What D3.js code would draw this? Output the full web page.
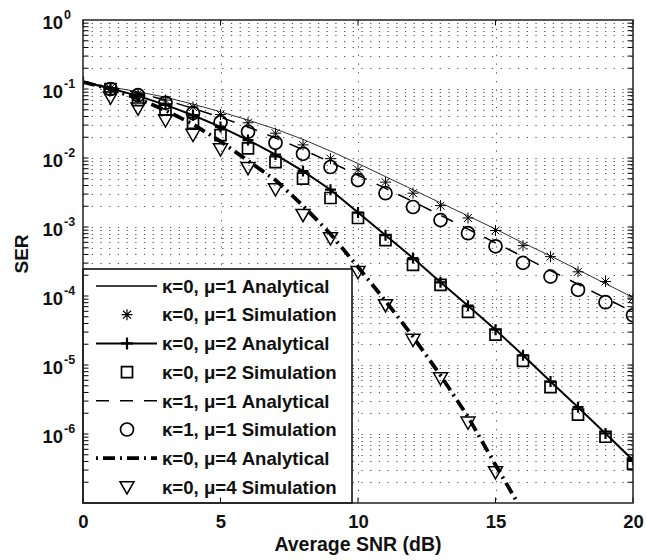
<!DOCTYPE html>
<html>
<head>
<meta charset="utf-8">
<script src="https://cdn.jsdelivr.net/npm/d3@7"></script>
<style>
  html, body { margin: 0; padding: 0; background: #fff; }
  svg text { font-family: "Liberation Sans", Arial, Helvetica, sans-serif; font-weight: bold; fill: #111; }
</style>
</head>
<body>
<svg id="chart" width="646" height="560"></svg>
<script>
// Average SNR (dB) sample points
const snrAnalytical = [0,1,2,3,4,5,6,7,8,9,10,11,12,13,14,15,16,17,18,19,20];
const snrSimulation = [1,2,3,4,5,6,7,8,9,10,11,12,13,14,15,16,17,18,19,20];
const snrMu4Analytical = [0,1,2,3,4,5,6,7,8,9,10,11,12,13,14,15,16];
const snrMu4Simulation = [1,2,3,4,5,6,7,8,9,10,11,12,13,14,15];

// kappa=0, mu=1
const serK0M1Analytical = [0.126,0.107,0.0912,0.0759,0.0603,0.0468,0.0355,0.0263,0.0186,0.0126,8.32e-3,5.37e-3,3.47e-3,2.24e-3,1.45e-3,9.33e-4,5.89e-4,3.80e-4,2.40e-4,1.51e-4,9.55e-5];
const serK0M1Simulation = [0.102,0.0851,0.0692,0.0550,0.0427,0.0324,0.0229,0.0155,9.77e-3,6.76e-3,4.47e-3,3.09e-3,2.04e-3,1.35e-3,8.91e-4,5.37e-4,3.72e-4,2.24e-4,1.62e-4,9.33e-5];
// kappa=0, mu=2
const serK0M2Analytical = [0.126,0.102,0.0794,0.0589,0.0417,0.0282,0.0182,0.0112,6.46e-3,3.47e-3,1.62e-3,7.59e-4,3.55e-4,1.58e-4,7.24e-5,3.24e-5,1.38e-5,5.75e-6,2.45e-6,1.02e-6,4.17e-7];
const serK0M2Simulation = [0.100,0.0692,0.0501,0.0324,0.0214,0.0138,8.71e-3,5.01e-3,2.63e-3,1.35e-3,6.46e-4,2.82e-4,1.45e-4,5.89e-5,2.75e-5,1.15e-5,4.79e-6,1.91e-6,9.12e-7,3.72e-7];
// kappa=1, mu=1
const serK1M1Analytical = [0.126,0.107,0.0871,0.0692,0.0525,0.0389,0.0282,0.0195,0.0132,8.71e-3,5.62e-3,3.63e-3,2.34e-3,1.48e-3,9.33e-4,5.89e-4,3.72e-4,2.34e-4,1.48e-4,9.33e-5,5.89e-5];
const serK1M1Simulation = [0.100,0.0813,0.0631,0.0447,0.0331,0.0240,0.0166,0.0115,7.41e-3,4.79e-3,3.09e-3,1.95e-3,1.26e-3,8.13e-4,5.25e-4,3.02e-4,1.91e-4,1.23e-4,8.13e-5,5.25e-5];
// kappa=0, mu=4
const serK0M4Analytical = [0.126,0.100,0.0724,0.0490,0.0309,0.0174,9.12e-3,4.79e-3,2.04e-3,7.94e-4,2.63e-4,8.51e-5,2.57e-5,7.08e-6,1.78e-6,3.55e-7,7.41e-8];
const serK0M4Simulation = [0.0759,0.0525,0.0355,0.0219,0.0135,7.24e-3,3.55e-3,1.51e-3,6.92e-4,2.24e-4,7.41e-5,2.34e-5,6.46e-6,1.48e-6,2.82e-7];

const xTicks = [0,5,10,15,20];
const yTickExponents = [0,-1,-2,-3,-4,-5,-6];
const legendLabels = [
  "κ=0, μ=1 Analytical",
  "κ=0, μ=1 Simulation",
  "κ=0, μ=2 Analytical",
  "κ=0, μ=2 Simulation",
  "κ=1, μ=1 Analytical",
  "κ=1, μ=1 Simulation",
  "κ=0, μ=4 Analytical",
  "κ=0, μ=4 Simulation"
];

const svg = d3.select("#chart");
const plot = { left: 83, right: 633, top: 20, bottom: 503 };

const x = d3.scaleLinear().domain([0, 20]).range([plot.left, plot.right]);
const y = d3.scaleLog().domain([1e-7, 1]).range([plot.bottom, plot.top]);

svg.append("defs").append("clipPath").attr("id", "plot-clip")
  .append("rect")
  .attr("x", plot.left).attr("y", plot.top)
  .attr("width", plot.right - plot.left).attr("height", plot.bottom - plot.top);

// dotted grid: decades plus 2..9 minor lines, vertical grid at major x ticks
const gridG = svg.append("g");
const minorVals = [];
for (let e = -7; e < 0; e++) for (let k = 1; k <= 9; k++) minorVals.push(k * Math.pow(10, e));
gridG.selectAll("line.h").data(minorVals.filter(v => v > 1e-7 && v < 1)).enter()
  .append("line")
  .attr("x1", plot.left).attr("x2", plot.right)
  .attr("y1", d => Math.round(y(d)) + 0.5).attr("y2", d => Math.round(y(d)) + 0.5)
  .attr("stroke", "#555").attr("stroke-width", 1)
  .attr("stroke-dasharray", "1.3,7.4");
gridG.selectAll("line.v").data(xTicks.slice(1, -1)).enter()
  .append("line")
  .attr("y1", plot.top).attr("y2", plot.bottom)
  .attr("x1", d => Math.round(x(d)) + 0.5).attr("x2", d => Math.round(x(d)) + 0.5)
  .attr("stroke", "#555").attr("stroke-width", 1)
  .attr("stroke-dasharray", "1.3,7.4");

const curves = svg.append("g").attr("clip-path", "url(#plot-clip)");
const line = d3.line().x(d => x(d[0])).y(d => y(d[1]));
const zip = (a, b) => a.map((v, i) => [v, b[i]]);

curves.append("path").datum(zip(snrAnalytical, serK0M1Analytical))
  .attr("d", line).attr("fill", "none").attr("stroke", "#333").attr("stroke-width", 1);
curves.append("path").datum(zip(snrAnalytical, serK0M2Analytical))
  .attr("d", line).attr("fill", "none").attr("stroke", "#000").attr("stroke-width", 2);
curves.append("path").datum(zip(snrAnalytical, serK1M1Analytical))
  .attr("d", line).attr("fill", "none").attr("stroke", "#000").attr("stroke-width", 1.5)
  .attr("stroke-dasharray", "13,11");
curves.append("path").datum(zip(snrMu4Analytical, serK0M4Analytical))
  .attr("d", line).attr("fill", "none").attr("stroke", "#000").attr("stroke-width", 3.8)
  .attr("stroke-dasharray", "12,5,2,5");

// marker glyphs centred on (cx, cy)
function starPath(cx, cy, r) {
  const a = r * 0.72;
  return `M${cx - r},${cy}L${cx + r},${cy}M${cx},${cy - r}L${cx},${cy + r}` +
         `M${cx - a},${cy - a}L${cx + a},${cy + a}M${cx - a},${cy + a}L${cx + a},${cy - a}`;
}
function plusPath(cx, cy, r) {
  return `M${cx - r},${cy}L${cx + r},${cy}M${cx},${cy - r}L${cx},${cy + r}`;
}
function squarePath(cx, cy, r) {
  return `M${cx - r},${cy - r}h${2 * r}v${2 * r}h${-2 * r}Z`;
}
function circlePath(cx, cy, r) {
  return `M${cx - r},${cy}a${r},${r} 0 1,0 ${2 * r},0a${r},${r} 0 1,0 ${-2 * r},0Z`;
}
function triDownPath(cx, cy, r) {
  return `M${cx - r},${cy - r * 0.75}L${cx + r},${cy - r * 0.75}L${cx},${cy + r}Z`;
}

function drawMarkers(xs, ys, shape, r, sw) {
  curves.append("g").selectAll("path").data(zip(xs, ys)).enter()
    .append("path")
    .attr("d", d => shape(x(d[0]), y(d[1]), r))
    .attr("fill", "none").attr("stroke", "#000").attr("stroke-width", sw);
}
drawMarkers(snrAnalytical, serK0M2Analytical, plusPath, 5.5, 2.2);
drawMarkers(snrSimulation, serK0M1Simulation, starPath, 5.5, 1);
drawMarkers(snrSimulation, serK0M2Simulation, squarePath, 5.5, 1.7);
drawMarkers(snrSimulation, serK1M1Simulation, circlePath, 6.5, 1.7);
drawMarkers(snrMu4Simulation, serK0M4Simulation, triDownPath, 7, 1.5);

// legend in the lower-left corner
const lg = svg.append("g");
const lgBox = { x0: 83, x1: 352, y0: 269, y1: 503 };
lg.append("rect").attr("x", lgBox.x0).attr("y", lgBox.y0)
  .attr("width", lgBox.x1 - lgBox.x0).attr("height", lgBox.y1 - lgBox.y0)
  .attr("fill", "#fff").attr("stroke", "#000").attr("stroke-width", 1.5);
const rowY = i => 286 + i * 28.7;
const sx0 = 96, sx1 = 157, mx = 127;
const sample = (i, w, dash, color) => lg.append("line")
  .attr("x1", sx0).attr("x2", sx1).attr("y1", rowY(i)).attr("y2", rowY(i))
  .attr("stroke", color || "#000").attr("stroke-width", w)
  .attr("stroke-dasharray", dash || null);
const glyph = (i, shape, r, sw) => lg.append("path")
  .attr("d", shape(mx, rowY(i), r))
  .attr("fill", "none").attr("stroke", "#000").attr("stroke-width", sw);
sample(0, 1.3);
glyph(1, starPath, 5.5, 1.2);
sample(2, 2); glyph(2, plusPath, 6, 2.2);
glyph(3, squarePath, 5.5, 1.7);
sample(4, 1.5, "13,11");
glyph(5, circlePath, 6.5, 1.7);
sample(6, 3.8, "2,5,12,5");
glyph(7, triDownPath, 7, 1.5);
lg.selectAll("text").data(legendLabels).enter().append("text")
  .attr("x", 162).attr("y", (d, i) => rowY(i) + 6.7)
  .attr("font-size", 18.6).text(d => d);

// axes box and inward ticks
const axes = svg.append("g");
const tickLen = 5.5;
xTicks.forEach(t => {
  const px = x(t);
  axes.append("line").attr("x1", px).attr("x2", px).attr("y1", plot.bottom).attr("y2", plot.bottom - tickLen)
    .attr("stroke", "#000");
  axes.append("line").attr("x1", px).attr("x2", px).attr("y1", plot.top).attr("y2", plot.top + tickLen)
    .attr("stroke", "#000");
});
minorVals.filter(v => v > 1e-7 && v <= 1).forEach(v => {
  const py = y(v);
  axes.append("line").attr("x1", plot.left).attr("x2", plot.left + tickLen).attr("y1", py).attr("y2", py)
    .attr("stroke", "#000");
  axes.append("line").attr("x1", plot.right).attr("x2", plot.right - tickLen).attr("y1", py).attr("y2", py)
    .attr("stroke", "#000");
});
axes.append("rect").attr("x", plot.left).attr("y", plot.top)
  .attr("width", plot.right - plot.left).attr("height", plot.bottom - plot.top)
  .attr("fill", "none").attr("stroke", "#222").attr("stroke-width", 1.5);

// tick labels
const xAxis = d3.axisBottom(x).tickValues(xTicks).tickSize(0).tickPadding(0);
const xg = svg.append("g").attr("transform", `translate(0,${plot.bottom})`).call(xAxis);
xg.select(".domain").remove();
xg.selectAll("text").attr("y", 25).attr("dy", null).attr("font-size", 18.5)
  .attr("font-family", null).style("fill", "#111");

yTickExponents.forEach(e => {
  const py = y(Math.pow(10, e));
  svg.append("text").attr("x", 63).attr("y", py + 9).attr("text-anchor", "end")
    .attr("font-size", 18.5).text("10");
  svg.append("text").attr("x", 64).attr("y", py - 1).attr("font-size", 12.5).text(String(e));
});

// axis titles
svg.append("text").attr("x", (plot.left + plot.right) / 2).attr("y", 551)
  .attr("text-anchor", "middle").attr("font-size", 19.5).text("Average SNR (dB)");
svg.append("text").attr("transform", "translate(28,254) rotate(-90)")
  .attr("text-anchor", "middle").attr("font-size", 19).text("SER");
</script>
</body>
</html>
